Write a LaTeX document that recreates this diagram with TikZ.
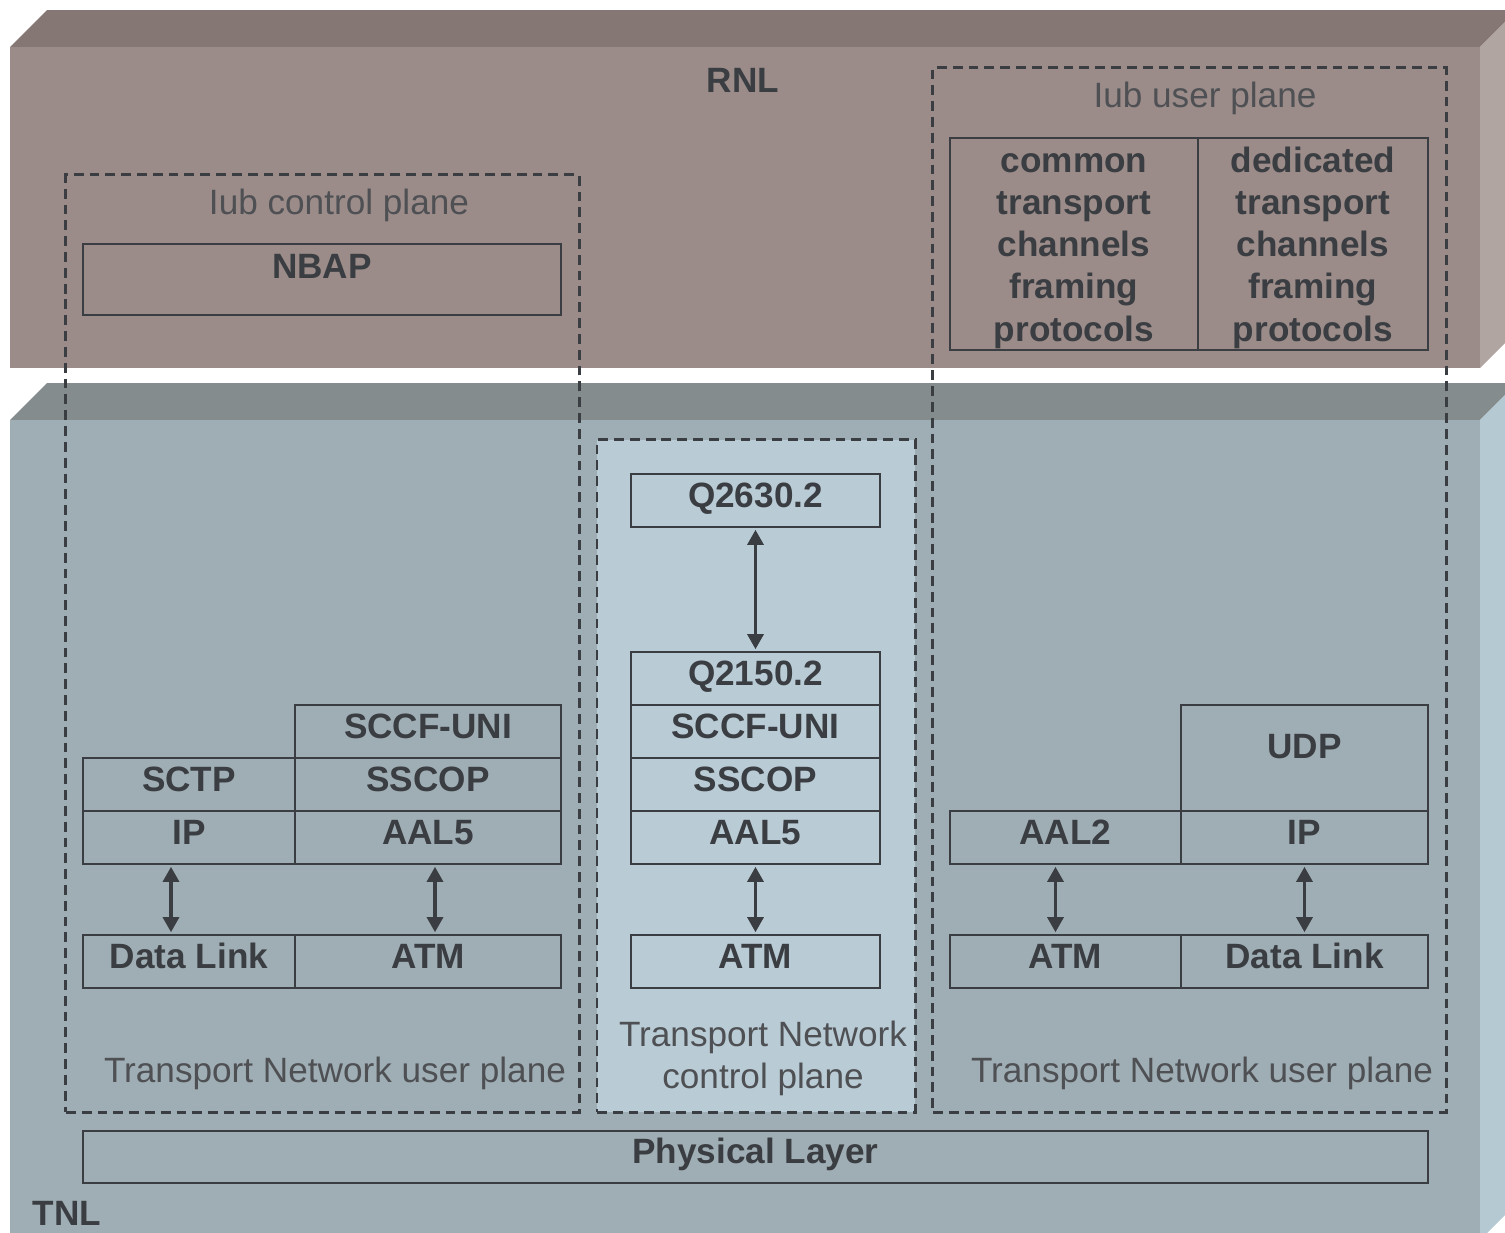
\documentclass[tikz,border=0pt]{standalone}
\usepackage{fontspec}
\setmainfont{Liberation Sans}
\usetikzlibrary{arrows.meta}

\definecolor{rnlfront}{HTML}{9B8C89}
\definecolor{rnltop}{HTML}{857874}
\definecolor{rnlside}{HTML}{B1A5A2}
\definecolor{tnlfront}{HTML}{9FAEB4}
\definecolor{tnltop}{HTML}{848C8E}
\definecolor{tnlside}{HTML}{B5C9D3}
\definecolor{tncpfill}{HTML}{B9CBD5}
\definecolor{ink}{HTML}{3A3D41}

\begin{document}
\begin{tikzpicture}[
  x=0.01cm, y=-0.01cm,
  proto/.style={rectangle, draw=ink, line width=0.6pt, inner sep=0pt, text=ink,
    font=\bfseries\fontsize{10}{12}\selectfont, text height=0.25cm, text depth=0.12cm},
  framing/.style={rectangle, draw=ink, line width=0.6pt, inner sep=0pt, text=ink,
    font=\bfseries\fontsize{10}{12}\selectfont, align=center, minimum height=2.12cm},
  plane/.style={rectangle, draw=ink, line width=0.8pt, dash pattern=on 2.8pt off 1.7pt, inner sep=0pt},
  planelabel/.style={font=\fontsize{10}{12}\selectfont, text=ink!90, align=center},
  layername/.style={font=\bfseries\fontsize{10}{12}\selectfont, text=ink},
  updown/.style={{Triangle[length=1.5mm,width=1.6mm]}-{Triangle[length=1.5mm,width=1.6mm]}, line width=0.9pt, draw=ink},
]
\useasboundingbox (0,0) rectangle (1505,1232);
\clip (0,0) rectangle (1505,1232);

% --- RNL slab ---
\fill[rnltop] (10,47) -- (47,10) -- (1517,10) -- (1480,47) -- cycle;
\fill[rnlside] (1480,47) -- (1517,10) -- (1517,331) -- (1480,368) -- cycle;
\fill[rnlfront] (10,47) rectangle (1480,368);

% --- TNL slab ---
\fill[tnltop] (10,420) -- (47,383) -- (1517,383) -- (1480,420) -- cycle;
\fill[tnlside] (1480,420) -- (1517,383) -- (1517,1203) -- (1480,1240) -- cycle;
\fill[tnlfront] (10,420) rectangle (1480,1240);

\node[layername] (rnl) at (743,80) {RNL};
\node[layername] (tnl) at (67,1213) {TNL};

% planes
\node[plane, fill=tncpfill, minimum width=3.18cm, minimum height=6.72cm] (tncp) at (756,776) {};
\node[plane, minimum width=5.13cm, minimum height=9.37cm] (ctrl) at (322.5,643.5) {};
\node[plane, minimum width=5.13cm, minimum height=10.44cm] (user) at (1189.5,590) {};

\node[planelabel] (ctrllbl) at (339,205) {Iub control plane};
\node[planelabel] (userlbl) at (1205,98) {Iub user plane};
\node[planelabel] (tnuplL) at (335,1073) {Transport Network user plane};
\node[planelabel] (tnuplR) at (1202,1073) {Transport Network user plane};
\node[planelabel] (tncplbl) at (763,1058) {Transport Network\\control plane};

% radio network layer protocols
\node[proto, minimum width=4.78cm, minimum height=0.71cm, text depth=0.27cm] (nbap) at (322,279.5) {NBAP};
\node[framing, minimum width=2.48cm] (common) at (1074,244)
  {\vphantom{d}common\\transport\\channels\\framing\\\smash{protocols}};
\node[framing, minimum width=2.30cm] (dedicated) at (1313,244)
  {dedicated\\transport\\channels\\framing\\\smash{protocols}};

% control plane stack
\node[proto, minimum width=2.66cm, minimum height=0.53cm] (sccfL) at (428,731.5) {SCCF-UNI};
\node[proto, minimum width=2.12cm, minimum height=0.53cm] (sctp) at (189,784.5) {SCTP};
\node[proto, minimum width=2.66cm, minimum height=0.53cm] (sscopL) at (428,784.5) {SSCOP};
\node[proto, minimum width=2.12cm, minimum height=0.53cm] (ipL) at (189,837.5) {IP};
\node[proto, minimum width=2.66cm, minimum height=0.53cm] (aal5L) at (428,837.5) {AAL5};
\node[proto, minimum width=2.12cm, minimum height=0.53cm] (dlL) at (189,961.5) {Data Link};
\node[proto, minimum width=2.66cm, minimum height=0.53cm] (atmL) at (428,961.5) {ATM};

% transport network control plane stack
\node[proto, minimum width=2.49cm, minimum height=0.53cm] (q2630) at (755.5,500.5) {Q2630.2};
\node[proto, minimum width=2.49cm, minimum height=0.53cm] (q2150) at (755.5,678.5) {Q2150.2};
\node[proto, minimum width=2.49cm, minimum height=0.53cm] (sccfM) at (755.5,731.5) {SCCF-UNI};
\node[proto, minimum width=2.49cm, minimum height=0.53cm] (sscopM) at (755.5,784.5) {SSCOP};
\node[proto, minimum width=2.49cm, minimum height=0.53cm] (aal5M) at (755.5,837.5) {AAL5};
\node[proto, minimum width=2.49cm, minimum height=0.53cm] (atmM) at (755.5,961.5) {ATM};

% user plane stack
\node[proto, minimum width=2.47cm, minimum height=1.06cm, text depth=0.24cm] (udp) at (1304.5,758) {UDP};
\node[proto, minimum width=2.31cm, minimum height=0.53cm] (aal2) at (1065.5,837.5) {AAL2};
\node[proto, minimum width=2.47cm, minimum height=0.53cm] (ipR) at (1304.5,837.5) {IP};
\node[proto, minimum width=2.31cm, minimum height=0.53cm] (atmR) at (1065.5,961.5) {ATM};
\node[proto, minimum width=2.47cm, minimum height=0.53cm] (dlR) at (1304.5,961.5) {Data Link};

\node[proto, minimum width=13.45cm, minimum height=0.52cm] (phy) at (755.5,1157) {Physical Layer};

% layer links
\draw[updown] ([xshift=-0.18cm, yshift=-0.5pt]ipL.south) -- ([xshift=-0.18cm, yshift=0.5pt]dlL.north);
\draw[updown] ([xshift=0.07cm, yshift=-0.5pt]aal5L.south) -- ([xshift=0.07cm, yshift=0.5pt]atmL.north);
\draw[updown] ([yshift=-0.5pt]q2630.south) -- ([yshift=0.5pt]q2150.north);
\draw[updown] ([yshift=-0.5pt]aal5M.south) -- ([yshift=0.5pt]atmM.north);
\draw[updown] ([xshift=-0.1cm, yshift=-0.5pt]aal2.south) -- ([xshift=-0.1cm, yshift=0.5pt]atmR.north);
\draw[updown] ([yshift=-0.5pt]ipR.south) -- ([yshift=0.5pt]dlR.north);
\end{tikzpicture}
\end{document}
